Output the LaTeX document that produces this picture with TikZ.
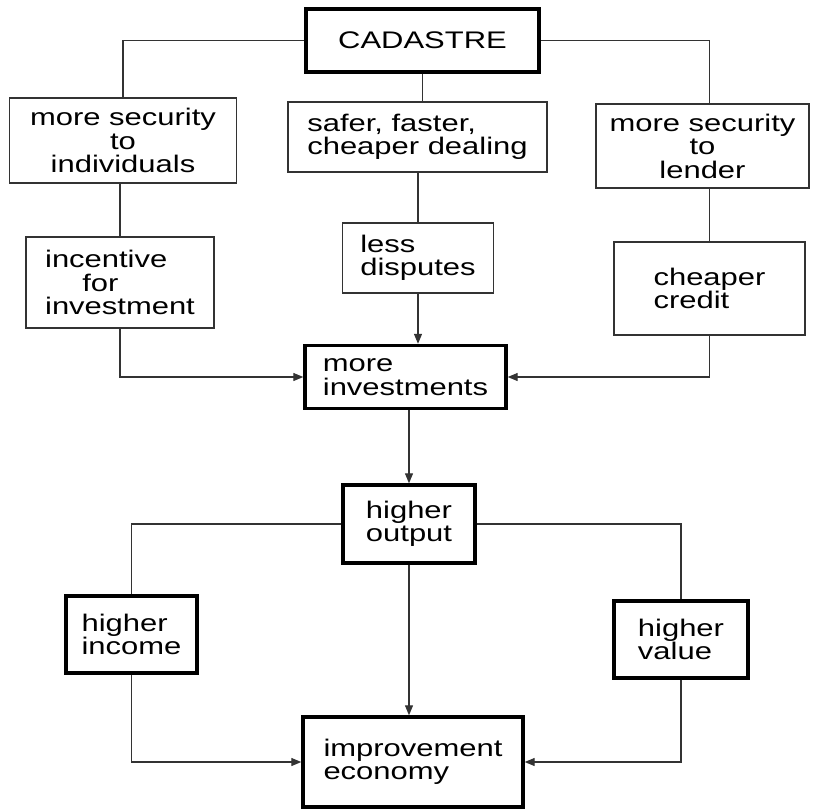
\documentclass[tikz,border=0pt]{standalone}
\usepackage{fontspec}
\setmainfont{Liberation Sans}[FakeStretch=1.29]
\usetikzlibrary{arrows.meta}
\tikzset{
  thinbox/.style={draw=black!80, line width=1.3pt, inner sep=0pt, align=left,
    font=\fontsize{24}{23.5}\selectfont},
  thickbox/.style={thinbox, draw=black, line width=3.4pt},
  link/.style={draw=black!80, line width=1.2pt},
  flow/.style={link, -{Triangle[length=10pt,width=8pt]}}
}
\begin{document}
\begin{tikzpicture}[x=1pt, y=-1pt]
  \useasboundingbox (0,0) rectangle (813,809);
  % boxes (centre, size)
  \node[thickbox, minimum width=233pt, minimum height=63pt] (cad) at (422.5,40.5) {CADASTRE};
  \node[thinbox, align=center, minimum width=227pt, minimum height=85pt] (msi) at (123,140.5) {more security\\to\\individuals};
  \node[thinbox, minimum width=259pt, minimum height=70pt] (sfc) at (417.5,137) {safer, faster,\\cheaper dealing};
  \node[thinbox, align=center, minimum width=213pt, minimum height=84pt] (msl) at (702.5,146) {more security\\to\\lender};
  \node[thinbox, minimum width=188pt, minimum height=91pt] (inc) at (120,282.5) {incentive\\\hspace*{1.55em}for\\investment};
  \node[thinbox, minimum width=151pt, minimum height=70pt] (ld) at (418,258) {less\\disputes};
  \node[thinbox, minimum width=191pt, minimum height=93pt] (cc) at (709.5,288.5) {cheaper\\credit};
  \node[thickbox, minimum width=201pt, minimum height=63pt] (mi) at (405.5,377) {more\\investments};
  \node[thickbox, minimum width=132pt, minimum height=78pt] (ho) at (409,524) {higher\\output};
  \node[thickbox, minimum width=131pt, minimum height=77pt] (hi) at (131.5,634.5) {higher\\income};
  \node[thickbox, minimum width=134pt, minimum height=77pt] (hv) at (681,639.5) {higher\\value};
  \node[thickbox, minimum width=220pt, minimum height=90pt] (ie) at (413,762) {improvement\\economy};

  % links from the cadastre
  \draw[link] (cad.west) -| (msi.north);
  \draw[link] (cad.east) -| (msl.north -| cc.north);
  \draw[link] (cad.south) -- (cad.south |- sfc.north);
  \draw[link] (inc.north |- msi.south) -- (inc.north);
  \draw[link] (ld.north |- sfc.south) -- (ld.north);
  \draw[link] (cc.north |- msl.south) -- (cc.north);
  % into more investments
  \draw[flow] (inc.south) |- (mi.west);
  \draw[flow] (ld.south) -- (ld.south |- mi.north);
  \draw[flow] (cc.south) |- (mi.east);
  \draw[flow] (ho.north |- mi.south) -- (ho.north);
  % output and its effects
  \draw[link] (ho.west) -| (hi.north);
  \draw[link] (ho.east) -| (hv.north);
  \draw[flow] (ho.south) -- (ho.south |- ie.north);
  \draw[flow] (hi.south) |- (ie.west);
  \draw[flow] (hv.south) |- (ie.east);
\end{tikzpicture}
\end{document}
